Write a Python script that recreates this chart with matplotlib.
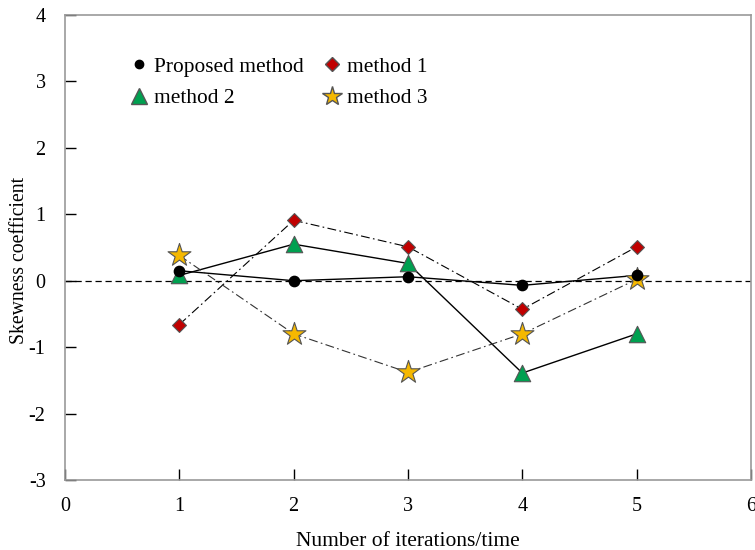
import numpy as np
import matplotlib.pyplot as plt
from matplotlib.lines import Line2D

iterations = [1, 2, 3, 4, 5]
proposed = [0.15, 0.0, 0.06, -0.07, 0.08]
method1 = [-0.66, 0.91, 0.51, -0.43, 0.51]
method2 = [0.08, 0.55, 0.26, -1.39, -0.80]
method3 = [0.38, -0.80, -1.38, -0.80, 0.02]

xticks = [0, 1, 2, 3, 4, 5, 6]
yticks = [-3, -2, -1, 0, 1, 2, 3, 4]

serif = 'Liberation Serif'

fig = plt.figure(figsize=(7.55, 5.5), dpi=100)
ax = fig.add_axes([0.0861, 0.1273, 0.9086, 0.8454])

ax.axhline(0, color='black', lw=0.9, ls=(0, (5, 3)), zorder=1)

ax.plot(iterations, proposed, color='black', lw=1.0, zorder=2)
ax.plot(iterations, method1, color='black', lw=0.8, ls=(0, (8, 3, 1.5, 3)), zorder=2)
ax.plot(iterations, method2, color='black', lw=1.0, zorder=2)
ax.plot(iterations, method3, color='#333333', lw=0.8, ls=(0, (8, 3, 1.5, 3)), zorder=2)

ax.scatter(iterations, proposed, marker='o', s=55, color='black', zorder=4)
ax.scatter(iterations, method1, marker='D', s=50, color='#c00000', edgecolor='#555555', lw=0.8, zorder=4)
ax.scatter(iterations, method2, marker='^', s=140, color='#00a050', edgecolor='#555555', lw=0.8, zorder=3)
ax.scatter(iterations, method3, marker='*', s=300, color='#f5b800', edgecolor='#555555', lw=0.8, zorder=3)

ax.set_xlim(0, 6)
ax.set_ylim(-3, 4)
ax.set_xticks(xticks)
ax.set_yticks(yticks)
ax.set_xticklabels([str(t) for t in xticks], family=serif, fontsize=14.5)
ax.set_yticklabels([str(t) for t in yticks], family=serif, fontsize=14.5)
ax.tick_params(axis='x', direction='in', length=8, width=1, color='black', top=False, pad=12)
ax.tick_params(axis='y', direction='in', length=8, width=1, color='black', right=False, pad=14)

for s in ax.spines.values():
    s.set_color('#999999')
    s.set_linewidth(1.2)
    s.set_zorder(5)

ax.set_xlabel('Number of iterations/time', family=serif, fontsize=15.5, labelpad=12)
ax.set_ylabel('Skewness coefficient', family=serif, fontsize=14.2)
ax.yaxis.set_label_coords(-0.053, 0.472)

handles = [
    Line2D([], [], ls='', marker='o', ms=6, color='black'),
    Line2D([], [], ls='', marker='^', ms=11, color='#00a050', mec='#555555'),
    Line2D([], [], ls='', marker='D', ms=7, color='#c00000', mec='#555555'),
    Line2D([], [], ls='', marker='*', ms=15, color='#f5b800', mec='#555555'),
]
labels = ['Proposed method', 'method 2', 'method 1', 'method 3']
ax.legend(handles, labels, ncol=2, frameon=False, loc='upper left',
          bbox_to_anchor=(0.0676, 0.952), prop={'family': serif, 'size': 15.4},
          handlelength=0.8, handletextpad=0.28, columnspacing=0.95, labelspacing=0.55)

fig.savefig('out.png', dpi=100)
